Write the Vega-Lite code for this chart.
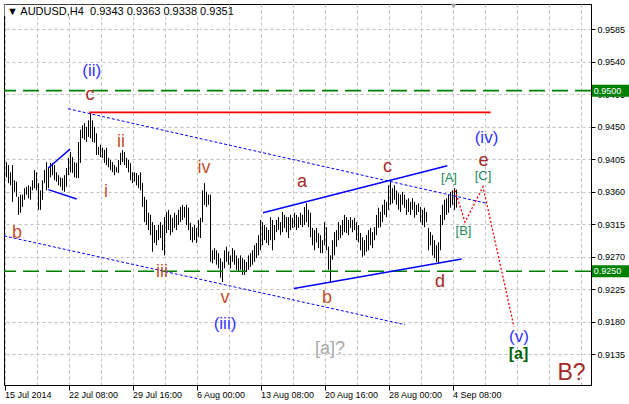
{
"$schema": "https://vega.github.io/schema/vega-lite/v6.json",
"width": 587, "height": 381,
"autosize": {"type": "none"},
"padding": {"left": 4, "top": 4, "right": 38, "bottom": 19},
"background": "white",
"config": {"view": {"stroke": "black", "strokeWidth": 1}, "font": "Liberation Sans",
  "axis": {"labelOverlap": false, "labelFont": "Liberation Sans", "labelFontSize": 9, "labelColor": "black", "title": null}},
"datasets": {
"bars": [
{"i":1,"h":0.9401,"l":0.9380},{"i":2,"h":0.9397,"l":0.9372},{"i":3,"h":0.9387,"l":0.9369},{"i":4,"h":0.9397,"l":0.9346},{"i":5,"h":0.9376,"l":0.9360},
{"i":6,"h":0.9374,"l":0.9353},{"i":7,"h":0.9353,"l":0.9328},{"i":8,"h":0.9356,"l":0.9331},{"i":9,"h":0.9356,"l":0.9339},{"i":10,"h":0.9365,"l":0.9349},
{"i":11,"h":0.9367,"l":0.9356},{"i":12,"h":0.9369,"l":0.9351},{"i":13,"h":0.9367,"l":0.9349},{"i":14,"h":0.9376,"l":0.9362},{"i":15,"h":0.9390,"l":0.9365},
{"i":16,"h":0.9387,"l":0.9362},{"i":17,"h":0.9372,"l":0.9335},{"i":18,"h":0.9362,"l":0.9335},{"i":19,"h":0.9376,"l":0.9349},{"i":20,"h":0.9390,"l":0.9372},
{"i":21,"h":0.9401,"l":0.9362},{"i":22,"h":0.9394,"l":0.9365},{"i":23,"h":0.9400,"l":0.9380},{"i":24,"h":0.9400,"l":0.9383},{"i":25,"h":0.9397,"l":0.9376},
{"i":26,"h":0.9387,"l":0.9374},{"i":27,"h":0.9383,"l":0.9369},{"i":28,"h":0.9380,"l":0.9367},{"i":29,"h":0.9379,"l":0.9362},{"i":30,"h":0.9383,"l":0.9360},
{"i":31,"h":0.9393,"l":0.9367},{"i":32,"h":0.9407,"l":0.9383},{"i":33,"h":0.9415,"l":0.9387},{"i":34,"h":0.9408,"l":0.9386},{"i":35,"h":0.9401,"l":0.9380},
{"i":36,"h":0.9400,"l":0.9379},{"i":37,"h":0.9429,"l":0.9379},{"i":38,"h":0.9446,"l":0.9400},{"i":39,"h":0.9452,"l":0.9434},{"i":40,"h":0.9455,"l":0.9432},
{"i":41,"h":0.9450,"l":0.9429},{"i":42,"h":0.9459,"l":0.9436},{"i":43,"h":0.9470,"l":0.9434},{"i":44,"h":0.9459,"l":0.9429},{"i":45,"h":0.9450,"l":0.9428},
{"i":46,"h":0.9441,"l":0.9411},{"i":47,"h":0.9422,"l":0.9411},{"i":48,"h":0.9425,"l":0.9408},{"i":49,"h":0.9421,"l":0.9407},{"i":50,"h":0.9418,"l":0.9400},
{"i":51,"h":0.9421,"l":0.9397},{"i":52,"h":0.9407,"l":0.9394},{"i":53,"h":0.9404,"l":0.9390},{"i":54,"h":0.9401,"l":0.9387},{"i":55,"h":0.9397,"l":0.9383},
{"i":56,"h":0.9394,"l":0.9387},{"i":57,"h":0.9404,"l":0.9386},{"i":58,"h":0.9414,"l":0.9397},{"i":59,"h":0.9418,"l":0.9401},{"i":60,"h":0.9415,"l":0.9397},
{"i":61,"h":0.9407,"l":0.9393},{"i":62,"h":0.9404,"l":0.9387},{"i":63,"h":0.9400,"l":0.9376},{"i":64,"h":0.9387,"l":0.9372},{"i":65,"h":0.9387,"l":0.9374},
{"i":66,"h":0.9386,"l":0.9369},{"i":67,"h":0.9383,"l":0.9365},{"i":68,"h":0.9387,"l":0.9362},{"i":69,"h":0.9372,"l":0.9339},{"i":70,"h":0.9353,"l":0.9318},
{"i":71,"h":0.9349,"l":0.9314},{"i":72,"h":0.9331,"l":0.9307},{"i":73,"h":0.9328,"l":0.9300},{"i":74,"h":0.9318,"l":0.9277},{"i":75,"h":0.9314,"l":0.9289},
{"i":76,"h":0.9307,"l":0.9286},{"i":77,"h":0.9314,"l":0.9293},{"i":78,"h":0.9318,"l":0.9296},{"i":79,"h":0.9314,"l":0.9279},{"i":80,"h":0.9325,"l":0.9272},
{"i":81,"h":0.9332,"l":0.9303},{"i":82,"h":0.9335,"l":0.9307},{"i":83,"h":0.9328,"l":0.9300},{"i":84,"h":0.9324,"l":0.9304},{"i":85,"h":0.9331,"l":0.9310},
{"i":86,"h":0.9328,"l":0.9307},{"i":87,"h":0.9335,"l":0.9314},{"i":88,"h":0.9339,"l":0.9318},{"i":89,"h":0.9342,"l":0.9321},{"i":90,"h":0.9339,"l":0.9324},
{"i":91,"h":0.9342,"l":0.9314},{"i":92,"h":0.9338,"l":0.9307},{"i":93,"h":0.9317,"l":0.9293},{"i":94,"h":0.9311,"l":0.9290},{"i":95,"h":0.9314,"l":0.9293},
{"i":96,"h":0.9310,"l":0.9289},{"i":97,"h":0.9321,"l":0.9297},{"i":98,"h":0.9324,"l":0.9296},{"i":99,"h":0.9362,"l":0.9318},{"i":100,"h":0.9372,"l":0.9342},
{"i":101,"h":0.9360,"l":0.9339},{"i":102,"h":0.9356,"l":0.9342},{"i":103,"h":0.9356,"l":0.9263},{"i":104,"h":0.9279,"l":0.9261},{"i":105,"h":0.9282,"l":0.9266},
{"i":106,"h":0.9279,"l":0.9259},{"i":107,"h":0.9275,"l":0.9254},{"i":108,"h":0.9268,"l":0.9241},{"i":109,"h":0.9263,"l":0.9235},{"i":110,"h":0.9279,"l":0.9254},
{"i":111,"h":0.9284,"l":0.9263},{"i":112,"h":0.9277,"l":0.9259},{"i":113,"h":0.9272,"l":0.9254},{"i":114,"h":0.9282,"l":0.9263},{"i":115,"h":0.9279,"l":0.9259},
{"i":116,"h":0.9272,"l":0.9252},{"i":117,"h":0.9268,"l":0.9249},{"i":118,"h":0.9272,"l":0.9252},{"i":119,"h":0.9268,"l":0.9245},{"i":120,"h":0.9266,"l":0.9245},
{"i":121,"h":0.9263,"l":0.9249},{"i":122,"h":0.9272,"l":0.9252},{"i":123,"h":0.9275,"l":0.9256},{"i":124,"h":0.9279,"l":0.9259},{"i":125,"h":0.9286,"l":0.9263},
{"i":126,"h":0.9289,"l":0.9268},{"i":127,"h":0.9300,"l":0.9272},{"i":128,"h":0.9321,"l":0.9279},{"i":129,"h":0.9318,"l":0.9286},{"i":130,"h":0.9314,"l":0.9293},
{"i":131,"h":0.9311,"l":0.9289},{"i":132,"h":0.9307,"l":0.9286},{"i":133,"h":0.9325,"l":0.9293},{"i":134,"h":0.9321,"l":0.9279},{"i":135,"h":0.9314,"l":0.9293},
{"i":136,"h":0.9321,"l":0.9304},{"i":137,"h":0.9325,"l":0.9307},{"i":138,"h":0.9318,"l":0.9300},{"i":139,"h":0.9332,"l":0.9304},{"i":140,"h":0.9328,"l":0.9310},
{"i":141,"h":0.9325,"l":0.9304},{"i":142,"h":0.9325,"l":0.9296},{"i":143,"h":0.9328,"l":0.9307},{"i":144,"h":0.9324,"l":0.9310},{"i":145,"h":0.9331,"l":0.9311},
{"i":146,"h":0.9328,"l":0.9307},{"i":147,"h":0.9325,"l":0.9310},{"i":148,"h":0.9331,"l":0.9314},{"i":149,"h":0.9328,"l":0.9311},{"i":150,"h":0.9339,"l":0.9314},
{"i":151,"h":0.9344,"l":0.9318},{"i":152,"h":0.9335,"l":0.9311},{"i":153,"h":0.9331,"l":0.9297},{"i":154,"h":0.9310,"l":0.9286},{"i":155,"h":0.9307,"l":0.9279},
{"i":156,"h":0.9310,"l":0.9290},{"i":157,"h":0.9303,"l":0.9282},{"i":158,"h":0.9300,"l":0.9275},{"i":159,"h":0.9293,"l":0.9275},{"i":160,"h":0.9318,"l":0.9286},
{"i":161,"h":0.9311,"l":0.9279},{"i":162,"h":0.9284,"l":0.9252},{"i":163,"h":0.9272,"l":0.9235},{"i":164,"h":0.9293,"l":0.9266},{"i":165,"h":0.9304,"l":0.9272},
{"i":166,"h":0.9307,"l":0.9284},{"i":167,"h":0.9318,"l":0.9293},{"i":168,"h":0.9314,"l":0.9296},{"i":169,"h":0.9321,"l":0.9300},{"i":170,"h":0.9328,"l":0.9304},
{"i":171,"h":0.9325,"l":0.9303},{"i":172,"h":0.9321,"l":0.9300},{"i":173,"h":0.9325,"l":0.9310},{"i":174,"h":0.9321,"l":0.9304},{"i":175,"h":0.9324,"l":0.9307},
{"i":176,"h":0.9318,"l":0.9293},{"i":177,"h":0.9314,"l":0.9290},{"i":178,"h":0.9303,"l":0.9279},{"i":179,"h":0.9297,"l":0.9270},{"i":180,"h":0.9293,"l":0.9272},
{"i":181,"h":0.9300,"l":0.9277},{"i":182,"h":0.9307,"l":0.9279},{"i":183,"h":0.9310,"l":0.9286},{"i":184,"h":0.9304,"l":0.9282},{"i":185,"h":0.9311,"l":0.9293},
{"i":186,"h":0.9328,"l":0.9300},{"i":187,"h":0.9338,"l":0.9310},{"i":188,"h":0.9332,"l":0.9311},{"i":189,"h":0.9342,"l":0.9318},{"i":190,"h":0.9349,"l":0.9328},
{"i":191,"h":0.9346,"l":0.9325},{"i":192,"h":0.9369,"l":0.9335},{"i":193,"h":0.9374,"l":0.9342},{"i":194,"h":0.9365,"l":0.9344},{"i":195,"h":0.9369,"l":0.9349},
{"i":196,"h":0.9362,"l":0.9342},{"i":197,"h":0.9358,"l":0.9335},{"i":198,"h":0.9356,"l":0.9332},{"i":199,"h":0.9360,"l":0.9342},{"i":200,"h":0.9356,"l":0.9338},
{"i":201,"h":0.9349,"l":0.9328},{"i":202,"h":0.9351,"l":0.9332},{"i":203,"h":0.9346,"l":0.9328},{"i":204,"h":0.9351,"l":0.9335},{"i":205,"h":0.9346,"l":0.9324},
{"i":206,"h":0.9342,"l":0.9328},{"i":207,"h":0.9344,"l":0.9332},{"i":208,"h":0.9339,"l":0.9318},{"i":209,"h":0.9335,"l":0.9314},{"i":210,"h":0.9338,"l":0.9311},
{"i":211,"h":0.9332,"l":0.9318},{"i":212,"h":0.9310,"l":0.9279},{"i":213,"h":0.9304,"l":0.9286},{"i":214,"h":0.9300,"l":0.9272},{"i":215,"h":0.9293,"l":0.9268},
{"i":216,"h":0.9286,"l":0.9263},{"i":217,"h":0.9290,"l":0.9261},{"i":218,"h":0.9328,"l":0.9279},{"i":219,"h":0.9342,"l":0.9314},{"i":220,"h":0.9349,"l":0.9321},
{"i":221,"h":0.9351,"l":0.9328},{"i":222,"h":0.9356,"l":0.9331},{"i":223,"h":0.9360,"l":0.9338},{"i":224,"h":0.9362,"l":0.9342},{"i":225,"h":0.9365,"l":0.9335},
{"i":226,"h":0.9363,"l":0.9338}
],
"levels": [{"p":0.9500,"lab":"0.9500"},{"p":0.9250,"lab":"0.9250"}],
"lines": [
{"k":"bdot","id":1,"i":31.75,"p":0.9475},{"k":"bdot","id":1,"i":241.25,"p":0.9344},
{"k":"bdot","id":2,"i":-0.25,"p":0.9299},{"k":"bdot","id":2,"i":200.25,"p":0.9176},
{"k":"bsol","id":3,"i":129.25,"p":0.9331},{"k":"bsol","id":3,"i":221.4,"p":0.9396},
{"k":"bsol","id":4,"i":144.75,"p":0.9226},{"k":"bsol","id":4,"i":228.6,"p":0.9267},
{"k":"bsol","id":5,"i":21.9,"p":0.9393},{"k":"bsol","id":5,"i":32.75,"p":0.9419},
{"k":"bsol","id":6,"i":21.9,"p":0.9363},{"k":"bsol","id":6,"i":36.1,"p":0.9350},
{"k":"rsol","id":7,"i":42.4,"p":0.9470},{"k":"rsol","id":7,"i":243.1,"p":0.9470},
{"k":"rdot","id":8,"i":225.25,"p":0.9362},{"k":"rdot","id":8,"i":230.25,"p":0.9318},{"k":"rdot","id":8,"i":239.25,"p":0.9367},{"k":"rdot","id":8,"i":254.75,"p":0.9173}
],
"labels": [
{"g":"wave","t":"(ii)","i":43.6,"p":0.9520},
{"g":"wave","t":"(iii)","i":110.25,"p":0.9170},
{"g":"wave","t":"(iv)","i":241,"p":0.9428},
{"g":"wave","t":"(v)","i":257.25,"p":0.9152},
{"g":"brown","t":"c","i":42.75,"p":0.9487},
{"g":"brown","t":"a","i":148.75,"p":0.9367},
{"g":"brown","t":"c","i":191.5,"p":0.9387},
{"g":"brown","t":"d","i":217.75,"p":0.9228},
{"g":"brown","t":"e","i":239.5,"p":0.9396},
{"g":"orange","t":"ii","i":58.25,"p":0.9422},
{"g":"orange","t":"i","i":50.75,"p":0.9353},
{"g":"orange","t":"iv","i":99.75,"p":0.9386},
{"g":"orange","t":"iii","i":78.75,"p":0.9242},
{"g":"orange","t":"v","i":110.25,"p":0.9206},
{"g":"orange","t":"b","i":6.25,"p":0.9296},
{"g":"orange","t":"b","i":161.25,"p":0.9206},
{"g":"teal","t":"[A]","i":222.25,"p":0.9374},
{"g":"teal","t":"[B]","i":229.5,"p":0.9300},
{"g":"teal","t":"[C]","i":239.25,"p":0.9376},
{"g":"green","t":"[a]","i":257,"p":0.9128},
{"g":"gray","t":"[a]?","i":162.75,"p":0.9135},
{"g":"big","t":"B?","i":283.5,"p":0.9099}
],
"header": [{"t":"▼ AUDUSD,H4\u00a0 0.9343 0.9363 0.9338 0.9351"}],
"marker": [{"i":224.5,"p":0.9617}]
},
"layer": [
{"data":{"name":"bars"},"mark":{"type":"rule","color":"black","strokeWidth":1},
 "encoding":{
  "x":{"field":"i","type":"quantitative","scale":{"domain":[-0.25,293.25],"nice":false,"zero":false},
   "axis":{"values":[0,16,32,48,64,80,96,112,128,144,160,176,192,208,224,240,256,272,288],"tickCount":40,
    "labelExpr":"datum.value==0?'15 Jul 2014':datum.value==32?'22 Jul 08:00':datum.value==64?'29 Jul 16:00':datum.value==96?'6 Aug 00:00':datum.value==128?'13 Aug 08:00':datum.value==160?'20 Aug 16:00':datum.value==192?'28 Aug 00:00':datum.value==224?'4 Sep 08:00':''",
    "title":null,"grid":true,"gridColor":"#c0c0c0","gridDash":[3,3],"gridWidth":1,
    "tickSize":5,"tickColor":"black","tickOpacity":{"condition":{"test":"datum.value % 32 == 0 && datum.value <= 224","value":1},"value":0},
    "domainColor":"black","labelAlign":"left","labelBaseline":"top","labelPadding":0,
    "labelFlush":false,"labelOverlap":false}},
  "y":{"field":"h","type":"quantitative","scale":{"domain":[0.90925,0.962],"nice":false,"zero":false},
   "axis":{"orient":"right","values":[0.9135,0.9180,0.9225,0.9270,0.9315,0.9360,0.9405,0.9450,0.9495,0.9540,0.9585],"tickCount":30,
    "format":".4f","title":null,
    "grid":true,"gridColor":"#c0c0c0","gridDash":[3,3],"gridWidth":1,"tickSize":4,"tickColor":"black","domainColor":"black",
    "labelPadding":2,"labelOverlap":false}},
  "y2":{"field":"l"}}},
{"data":{"values":[{}]},"mark":{"type":"rect","color":"white"},
 "encoding":{"x":{"datum":0,"scale":{"domain":[-0.25,293.25],"nice":false,"zero":false}},"x2":{"datum":100.5},
 "y":{"datum":0.9619,"scale":{"domain":[0.90925,0.962],"nice":false,"zero":false}},"y2":{"datum":0.9603}}},
{"data":{"name":"levels"},"mark":{"type":"rule","color":"#008000","strokeWidth":1.6,"strokeDash":[16,7]},
 "encoding":{"y":{"field":"p","type":"quantitative","scale":{"domain":[0.90925,0.962],"nice":false,"zero":false}}}},
{"data":{"name":"lines"},"transform":[{"filter":"datum.k=='bdot'"}],"mark":{"type":"line","color":"#0000ff","strokeWidth":1,"strokeDash":[3,2]},
 "encoding":{"x":{"field":"i","type":"quantitative","scale":{"domain":[-0.25,293.25],"nice":false,"zero":false}},
  "y":{"field":"p","type":"quantitative","scale":{"domain":[0.90925,0.962],"nice":false,"zero":false}},"detail":{"field":"id"}}},
{"data":{"name":"lines"},"transform":[{"filter":"datum.k=='bsol'"}],"mark":{"type":"line","color":"#0000ff","strokeWidth":1.5},
 "encoding":{"x":{"field":"i","type":"quantitative","scale":{"domain":[-0.25,293.25],"nice":false,"zero":false}},
  "y":{"field":"p","type":"quantitative","scale":{"domain":[0.90925,0.962],"nice":false,"zero":false}},"detail":{"field":"id"}}},
{"data":{"name":"lines"},"transform":[{"filter":"datum.k=='rsol'"}],"mark":{"type":"line","color":"#ff0000","strokeWidth":1.6},
 "encoding":{"x":{"field":"i","type":"quantitative","scale":{"domain":[-0.25,293.25],"nice":false,"zero":false}},
  "y":{"field":"p","type":"quantitative","scale":{"domain":[0.90925,0.962],"nice":false,"zero":false}},"detail":{"field":"id"}}},
{"data":{"name":"lines"},"transform":[{"filter":"datum.k=='rdot'"}],"mark":{"type":"line","color":"#ff0000","strokeWidth":1.3,"strokeDash":[2,2]},
 "encoding":{"x":{"field":"i","type":"quantitative","scale":{"domain":[-0.25,293.25],"nice":false,"zero":false}},
  "y":{"field":"p","type":"quantitative","scale":{"domain":[0.90925,0.962],"nice":false,"zero":false}},"detail":{"field":"id"}}},
{"data":{"name":"labels"},"transform":[{"filter":"datum.g=='wave'"}],"mark":{"type":"text","font":"Liberation Sans","fontSize":17,"color":"#3333ff","align":"center","baseline":"alphabetic"},
 "encoding":{"x":{"field":"i","type":"quantitative","scale":{"domain":[-0.25,293.25],"nice":false,"zero":false}},
  "y":{"field":"p","type":"quantitative","scale":{"domain":[0.90925,0.962],"nice":false,"zero":false}},"text":{"field":"t"}}},
{"data":{"name":"labels"},"transform":[{"filter":"datum.g=='brown'"}],"mark":{"type":"text","font":"Liberation Sans","fontSize":18,"color":"#a52a2a","align":"center","baseline":"alphabetic"},
 "encoding":{"x":{"field":"i","type":"quantitative","scale":{"domain":[-0.25,293.25],"nice":false,"zero":false}},
  "y":{"field":"p","type":"quantitative","scale":{"domain":[0.90925,0.962],"nice":false,"zero":false}},"text":{"field":"t"}}},
{"data":{"name":"labels"},"transform":[{"filter":"datum.g=='orange'"}],"mark":{"type":"text","font":"Liberation Sans","fontSize":18,"color":"#c4502c","align":"center","baseline":"alphabetic"},
 "encoding":{"x":{"field":"i","type":"quantitative","scale":{"domain":[-0.25,293.25],"nice":false,"zero":false}},
  "y":{"field":"p","type":"quantitative","scale":{"domain":[0.90925,0.962],"nice":false,"zero":false}},"text":{"field":"t"}}},
{"data":{"name":"labels"},"transform":[{"filter":"datum.g=='teal'"}],"mark":{"type":"text","font":"Liberation Sans","fontSize":13,"color":"#208a5a","align":"center","baseline":"alphabetic"},
 "encoding":{"x":{"field":"i","type":"quantitative","scale":{"domain":[-0.25,293.25],"nice":false,"zero":false}},
  "y":{"field":"p","type":"quantitative","scale":{"domain":[0.90925,0.962],"nice":false,"zero":false}},"text":{"field":"t"}}},
{"data":{"name":"labels"},"transform":[{"filter":"datum.g=='green'"}],"mark":{"type":"text","font":"Liberation Sans","fontSize":16,"fontWeight":"bold","color":"#006400","align":"center","baseline":"alphabetic"},
 "encoding":{"x":{"field":"i","type":"quantitative","scale":{"domain":[-0.25,293.25],"nice":false,"zero":false}},
  "y":{"field":"p","type":"quantitative","scale":{"domain":[0.90925,0.962],"nice":false,"zero":false}},"text":{"field":"t"}}},
{"data":{"name":"labels"},"transform":[{"filter":"datum.g=='gray'"}],"mark":{"type":"text","font":"Liberation Sans","fontSize":18,"color":"#a9a9a9","align":"center","baseline":"alphabetic"},
 "encoding":{"x":{"field":"i","type":"quantitative","scale":{"domain":[-0.25,293.25],"nice":false,"zero":false}},
  "y":{"field":"p","type":"quantitative","scale":{"domain":[0.90925,0.962],"nice":false,"zero":false}},"text":{"field":"t"}}},
{"data":{"name":"labels"},"transform":[{"filter":"datum.g=='big'"}],"mark":{"type":"text","font":"Liberation Sans","fontSize":23,"color":"#a52a2a","align":"center","baseline":"alphabetic"},
 "encoding":{"x":{"field":"i","type":"quantitative","scale":{"domain":[-0.25,293.25],"nice":false,"zero":false}},
  "y":{"field":"p","type":"quantitative","scale":{"domain":[0.90925,0.962],"nice":false,"zero":false}},"text":{"field":"t"}}},
{"data":{"name":"levels"},"mark":{"type":"rule","color":"#008000","strokeWidth":12,"strokeCap":"butt"},
 "encoding":{"x":{"datum":293.75,"scale":{"domain":[-0.25,293.25],"nice":false,"zero":false}},"x2":{"datum":312.5},
  "y":{"field":"p","type":"quantitative","scale":{"domain":[0.90925,0.962],"nice":false,"zero":false}}}},
{"data":{"name":"levels"},"mark":{"type":"text","font":"Liberation Sans","fontSize":9,"color":"white","align":"left","baseline":"middle"},
 "encoding":{"x":{"datum":294.6,"scale":{"domain":[-0.25,293.25],"nice":false,"zero":false}},
  "y":{"field":"p","type":"quantitative","scale":{"domain":[0.90925,0.962],"nice":false,"zero":false}},"text":{"field":"lab"}}},
{"data":{"name":"header"},"mark":{"type":"text","font":"Liberation Sans","fontSize":11,"color":"black","align":"left","baseline":"alphabetic"},
 "encoding":{"x":{"datum":1.25,"scale":{"domain":[-0.25,293.25],"nice":false,"zero":false}},
  "y":{"datum":0.9605,"scale":{"domain":[0.90925,0.962],"nice":false,"zero":false}},"text":{"field":"t"}}},
{"data":{"name":"marker"},"mark":{"type":"point","shape":"triangle-down","filled":true,"color":"#a0a0a0","size":30,"opacity":1},
 "encoding":{"x":{"field":"i","type":"quantitative","scale":{"domain":[-0.25,293.25],"nice":false,"zero":false}},
  "y":{"field":"p","type":"quantitative","scale":{"domain":[0.90925,0.962],"nice":false,"zero":false}}}}
]
}
